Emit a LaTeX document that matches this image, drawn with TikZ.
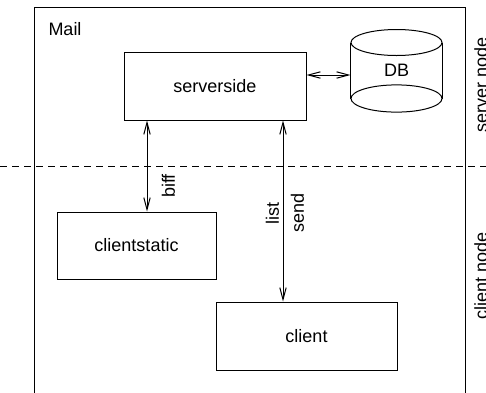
\documentclass[tikz,border=0pt]{standalone}
\usepackage{fontspec}
\setmainfont{Liberation Sans}
\usetikzlibrary{arrows.meta,calc}
\begin{document}
\begin{tikzpicture}[x=0.5pt,y=-0.5pt,
  font=\fontsize{9}{11}\selectfont,
  line width=0.5pt,
  box/.style={draw, inner sep=0pt},
  link/.style={{Straight Barb[length=6pt,width=3.2pt]}-{Straight Barb[length=6pt,width=3.2pt]}},
  lbl/.style={rotate=90, inner sep=0pt},
  divider/.style={dash pattern=on 3.5pt off 2.5pt}]
\useasboundingbox (0,0) rectangle (486,392);
\clip (0,0) rectangle (486,392);
% frame
\draw (34,7) rectangle (465,420);
\node[anchor=base west, inner sep=0pt] (mail) at (48,35) {Mail};
% dashed divider
\coordinate (dl) at (0,166);
\coordinate (dr) at (486,166);
\draw[divider] (dl) -- (dr);
% nodes
\node[box, minimum width=91pt, minimum height=34pt] (serverside) at (215,86) {serverside};
\node[box, minimum width=79.5pt, minimum height=33.5pt] (clientstatic) at (136.5,245.5) {clientstatic};
\node[box, minimum width=90.5pt, minimum height=34pt] (client) at (306.5,336) {client};
\node[inner sep=0pt, minimum width=45.5pt, minimum height=27.5pt] (DB) at (396.5,70.5) {DB};
% cylinder
\draw (DB.north west) -- (DB.south west);
\draw (DB.north east) -- (DB.south east);
\draw (DB.north) ellipse [x radius=22.75pt, y radius=6.5pt];
\draw (DB.south) ellipse [x radius=22.75pt, y radius=6.8pt];
% connectors
\coordinate (dby) at (0,75);
\coordinate (bx) at (147,0);
\coordinate (lx) at (283,0);
\draw[link] (serverside.east |- dby) -- (DB.west |- dby);
\draw[link] (serverside.south -| bx) -- (clientstatic.north -| bx);
\draw[link] (serverside.south -| lx) -- (client.north -| lx);
% labels
\node[lbl] (biff) at (168.5,186) {biff};
\node[lbl] (list) at (272.5,213.5) {list};
\node[lbl] (send) at (297.5,213) {send};
\node[lbl] (servernode) at (481,85) {server node};
\node[lbl] (clientnode) at (481,276) {client node};
\end{tikzpicture}
\end{document}
